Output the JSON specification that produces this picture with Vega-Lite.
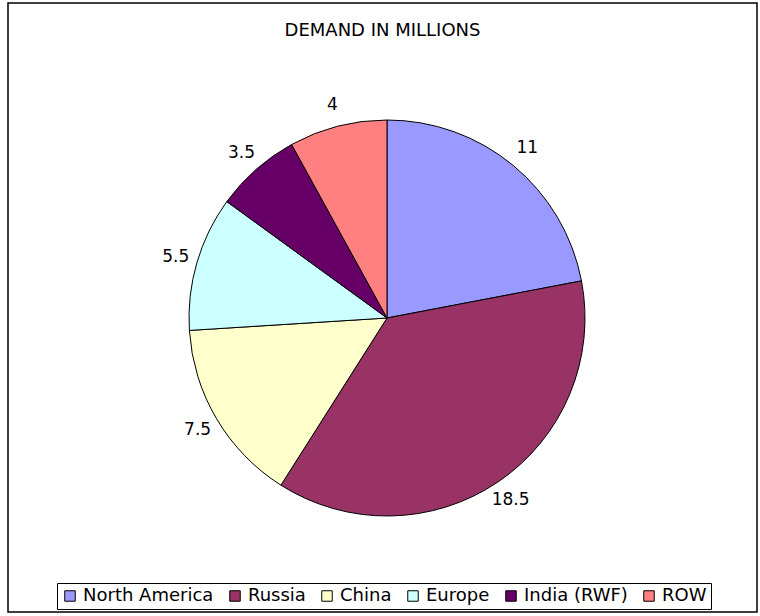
{
  "$schema": "https://vega.github.io/schema/vega-lite/v6.json",
  "width": 760,
  "height": 616,
  "autosize": {"type": "fit", "contains": "padding"},
  "padding": {"left": 8, "top": 3, "right": 3, "bottom": 4},
  "background": "white",
  "view": {"stroke": "black", "strokeWidth": 1.5, "fill": "white"},
  "config": {
    "view": {"stroke": "black", "strokeWidth": 1.5},
    "font": "DejaVu Sans"
  },
  "title": {
    "text": "DEMAND IN MILLIONS",
    "font": "DejaVu Sans",
    "fontSize": 18,
    "fontWeight": "normal",
    "color": "black",
    "anchor": "middle",
    "offset": -37,
    "orient": "top"
  },
  "data": {
    "values": [
      {"idx": 1, "region": "North America", "demand": 11},
      {"idx": 2, "region": "Russia", "demand": 18.5},
      {"idx": 3, "region": "China", "demand": 7.5},
      {"idx": 4, "region": "Europe", "demand": 5.5},
      {"idx": 5, "region": "India (RWF)", "demand": 3.5},
      {"idx": 6, "region": "ROW", "demand": 4}
    ]
  },
  "encoding": {
    "theta": {"field": "demand", "type": "quantitative", "stack": true},
    "order": {"field": "idx", "type": "quantitative"}
  },
  "layer": [
    {
      "mark": {"type": "arc", "outerRadius": 198, "stroke": "black", "strokeWidth": 1, "x": 379, "y": 315},
      "encoding": {
        "color": {
          "field": "region",
          "type": "nominal",
          "scale": {
            "domain": ["North America", "Russia", "China", "Europe", "India (RWF)", "ROW"],
            "range": ["#9999FF", "#993366", "#FFFFCC", "#CCFFFF", "#660066", "#FF8080"]
          },
          "legend": {
            "title": null,
            "orient": "none",
            "direction": "horizontal",
            "legendX": 49,
            "legendY": 580,
            "symbolType": "square",
            "symbolSize": 110,
            "symbolStrokeColor": "black",
            "symbolStrokeWidth": 1,
            "labelFont": "DejaVu Sans",
            "labelFontSize": 18,
            "labelColor": "black",
            "columnPadding": 12,
            "labelOffset": 4,
            "strokeColor": "black",
            "padding": 4,
            "fillColor": "white"
          }
        }
      }
    },
    {
      "mark": {"type": "text", "radius": 220, "font": "DejaVu Sans", "fontSize": 17, "color": "black", "align": "center", "baseline": "middle", "x": 379, "y": 315},
      "encoding": {
        "text": {"field": "demand", "type": "quantitative"}
      }
    }
  ]
}
